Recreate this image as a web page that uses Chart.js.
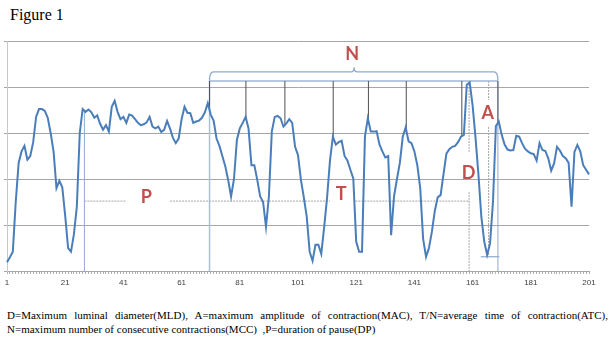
<!DOCTYPE html>
<html lang="en">
<head>
    <meta charset="UTF-8">
    <title>Figure 1</title>
    <script src="https://cdn.jsdelivr.net/npm/chart.js@4.4.0/dist/chart.umd.min.js"></script>
    <style>
        body {
            margin: 0;
            background: #fff;
            width: 613px;
            height: 337px;
            position: relative;
            overflow: hidden;
        }
        .title {
            position: absolute;
            left: 10px;
            top: 6px;
            font-family: 'Liberation Serif', serif;
            font-size: 16px;
            color: #000;
        }
        .chart-box {
            position: absolute;
            left: 0;
            top: 0;
            width: 613px;
            height: 300px;
        }
        .caption {
            position: absolute;
            left: 7px;
            top: 308px;
            width: 601px;
            font-family: 'Liberation Serif', serif;
            font-size: 11px;
            line-height: 14px;
            color: #000;
        }
        .caption .l1 {
            text-align: justify;
            text-align-last: justify;
        }
    </style>
</head>
<body>
    <div class="title">Figure 1</div>
    <div class="chart-box"><canvas id="chart"></canvas></div>
    <div class="caption">
        <div class="l1">D=Maximum luminal diameter(MLD), A=maximum amplitude of contraction(MAC), T/N=average time of contraction(ATC),</div>
        <div>N=maximum number of consecutive contractions(MCC)&nbsp; ,P=duration of pause(DP)</div>
    </div>

    <script>
        // sample index 1..201
        const categories = [];
        for (let i = 1; i <= 201; i++) categories.push(String(i));

        const tickLabels = ['1', '21', '41', '61', '81', '101', '121', '141', '161', '181', '201'];

        // luminal diameter trace
        const diameter = [
            0.19, 0.3, 0.42, 1.5, 2.35, 2.6, 2.72, 2.42, 2.5, 2.8,
            3.35, 3.52, 3.52, 3.48, 3.33, 3.0, 2.6, 1.8, 1.96, 1.82,
            1.2, 0.5, 0.42, 0.8, 1.4, 3.0, 3.52, 3.46, 3.51, 3.45,
            3.33, 3.38, 3.2, 3.07, 3.17, 3.03, 3.57, 3.7, 3.46, 3.3,
            3.35, 3.22, 3.4, 3.38, 3.3, 3.22, 3.17, 3.19, 3.23, 3.35,
            3.14, 3.1, 3.14, 3.02, 3.07, 3.26, 3.1, 2.9, 2.78, 2.88,
            3.3, 3.57, 3.44, 3.43, 3.22, 3.25, 3.27, 3.33, 3.45, 3.65,
            3.4, 3.27, 2.88, 2.72, 2.5, 2.28, 1.98, 1.62, 2.0, 2.85,
            3.1, 3.22, 3.35, 3.1, 2.3, 2.3, 1.98, 1.62, 1.5, 0.96,
            1.62, 3.03, 3.35, 3.37, 3.32, 3.14, 3.21, 3.3, 3.22, 2.7,
            2.52, 1.98, 1.6, 1.18, 0.42, 0.22, 0.57, 0.57, 0.37, 0.96,
            1.6, 2.41, 2.92, 2.75, 2.8, 2.83, 2.5, 2.4, 2.2, 2.01,
            0.64, 0.42, 0.42, 2.92, 3.32, 3.03, 3.03, 3.04, 2.75, 2.6,
            2.47, 2.5, 0.78, 1.62, 2.0, 2.35, 2.92, 3.12, 2.82, 2.78,
            2.6, 2.3, 1.8, 0.7, 0.31, 0.5, 0.85, 1.3, 1.6, 1.65,
            2.1, 2.55, 2.65, 2.7, 2.72, 2.8, 2.92, 2.96, 4.05, 4.1,
            3.6, 2.9, 2.1, 1.18, 0.64, 0.35, 0.6, 1.5, 3.15, 3.25,
            2.96, 2.75, 2.64, 2.62, 2.63, 2.94, 2.92, 2.78, 2.66, 2.6,
            2.56, 2.54, 2.4, 2.78, 2.63, 2.61, 2.45, 2.18, 2.34, 2.7,
            2.62, 2.5, 2.45, 2.35, 1.4, 2.59, 2.74, 2.6, 2.3, 2.2,
            2.1
        ];

        // annotation anchors (sample index, 1-based / value units)
        const contractionPeaks = [70.6, 83.1, 96.5, 113.1, 125.2, 138.2, 157.3, 169.7];
        const bracketFrom = 70.6, bracketTo = 169.7, bracketTip = 120.3;
        const pauseFrom = 27.6, pauseTo = 160, pauseLevel = 1.52;
        const pauseGaps = [[42, 57], [112, 120.7]];
        const labels = [
            { text: 'N', idx: 119.6, val: 4.72 },
            { text: 'P', idx: 48.9, val: 1.6 },
            { text: 'T', idx: 115.8, val: 1.67 },
            { text: 'D', idx: 159.6, val: 2.13 },
            { text: 'A', idx: 166.2, val: 3.43 }
        ];

        function valueAt(idx) {
            const i = Math.floor(idx) - 1;
            const f = idx - Math.floor(idx);
            const a = diameter[i], b = diameter[Math.min(i + 1, diameter.length - 1)];
            return a + (b - a) * f;
        }

        const annotations = {
            id: 'annotations',
            beforeDatasetsDraw(chart) {
                const ctx = chart.ctx;
                const xs = chart.scales.x, ys = chart.scales.y;
                const px = idx => xs.getPixelForValue(idx - 1);
                const py = v => ys.getPixelForValue(v);

                function line(x1, y1, x2, y2, color, width, dash) {
                    ctx.save();
                    ctx.strokeStyle = color;
                    ctx.lineWidth = width;
                    ctx.setLineDash(dash || []);
                    ctx.beginPath();
                    ctx.moveTo(x1, y1);
                    ctx.lineTo(x2, y2);
                    ctx.stroke();
                    ctx.restore();
                }

                // blue guide verticals
                line(px(pauseFrom), py(3.47), px(pauseFrom), py(0), '#8ea9cf', 1);
                line(px(bracketFrom), py(4.15), px(bracketFrom), py(0), '#a9bfdd', 1.5);
                line(px(bracketTo), py(4.15), px(bracketTo), py(0), '#8ea9cf', 1);
                line(px(163.8), py(0.31), px(170.2), py(0.31), '#8ea9cf', 1.2);

                // pause dashed line with gaps for labels
                let start = pauseFrom;
                pauseGaps.forEach(g => {
                    line(px(start), py(pauseLevel), px(g[0]), py(pauseLevel), '#a6a6a6', 1, [2, 1]);
                    start = g[1];
                });
                line(px(start), py(pauseLevel), px(pauseTo), py(pauseLevel), '#a6a6a6', 1, [2, 1]);

                // D and A dashed verticals
                line(px(159.8), py(4.13), px(159.8), py(2.59), '#a6a6a6', 1, [2, 1]);
                line(px(159.8), py(1.72), px(159.8), py(0), '#a6a6a6', 1, [2, 1]);
                line(px(166.5), py(4.13), px(166.5), py(3.72), '#a6a6a6', 1, [2, 1]);
                line(px(166.5), py(3.13), px(166.5), py(0.32), '#a6a6a6', 1, [2, 1]);

                // top connector and contraction markers
                line(px(bracketFrom), py(4.13), px(bracketTo), py(4.13), '#9fb6d6', 1.5);
                contractionPeaks.forEach(p => {
                    line(px(p), py(4.13), px(p), py(valueAt(p)), '#505050', 1);
                });

                // curly bracket for N
                const xl = px(bracketFrom), xr = px(bracketTo), xt = px(bracketTip);
                const yb = py(4.33), ye = py(4.15), yt = py(4.43);
                ctx.save();
                ctx.strokeStyle = '#8ea9cf';
                ctx.lineWidth = 1.3;
                ctx.beginPath();
                ctx.moveTo(xl, ye);
                ctx.quadraticCurveTo(xl, yb, xl + 4, yb);
                ctx.lineTo(xt - 3, yb);
                ctx.quadraticCurveTo(xt, yb, xt, yt);
                ctx.quadraticCurveTo(xt, yb, xt + 3, yb);
                ctx.lineTo(xr - 4, yb);
                ctx.quadraticCurveTo(xr, yb, xr, ye);
                ctx.stroke();
                ctx.restore();
            },
            afterDatasetsDraw(chart) {
                const ctx = chart.ctx;
                const xs = chart.scales.x, ys = chart.scales.y;
                ctx.save();
                ctx.fillStyle = '#c0504d';
                ctx.font = 'bold 18px Lato, "Open Sans", sans-serif';
                ctx.textAlign = 'center';
                ctx.textBaseline = 'middle';
                labels.forEach(l => {
                    ctx.fillText(l.text, xs.getPixelForValue(l.idx - 1), ys.getPixelForValue(l.val));
                });
                ctx.restore();
            }
        };

        new Chart(document.getElementById('chart'), {
            type: 'line',
            data: {
                labels: categories,
                datasets: [{
                    data: diameter,
                    borderColor: '#4a7ebb',
                    borderWidth: 2,
                    pointRadius: 0,
                    tension: 0,
                    fill: false
                }]
            },
            options: {
                responsive: true,
                maintainAspectRatio: false,
                animation: false,
                layout: { padding: { left: 0, right: 24, top: 41, bottom: 0 } },
                plugins: {
                    legend: { display: false },
                    tooltip: { enabled: false }
                },
                scales: {
                    x: {
                        offset: false,
                        afterFit: s => { s.height = 29; },
                        grid: {
                            drawOnChartArea: false,
                            drawTicks: true,
                            tickLength: 3,
                            color: '#b0b0b0'
                        },
                        border: { color: '#a6a6a6' },
                        ticks: {
                            autoSkip: false,
                            maxRotation: 0,
                            padding: 4,
                            color: '#404040',
                            font: { family: 'Liberation Sans', size: 8 },
                            callback: function (value) {
                                const lab = this.getLabelForValue(value);
                                return tickLabels.includes(lab) ? lab : '';
                            }
                        }
                    },
                    y: {
                        min: 0,
                        max: 5,
                        afterFit: s => { s.width = 7; },
                        grid: {
                            color: '#a6a6a6',
                            lineWidth: 1,
                            tickLength: 3
                        },
                        border: { color: '#c8c8c8' },
                        ticks: { stepSize: 1, display: false }
                    }
                }
            },
            plugins: [annotations]
        });
    </script>
</body>
</html>
